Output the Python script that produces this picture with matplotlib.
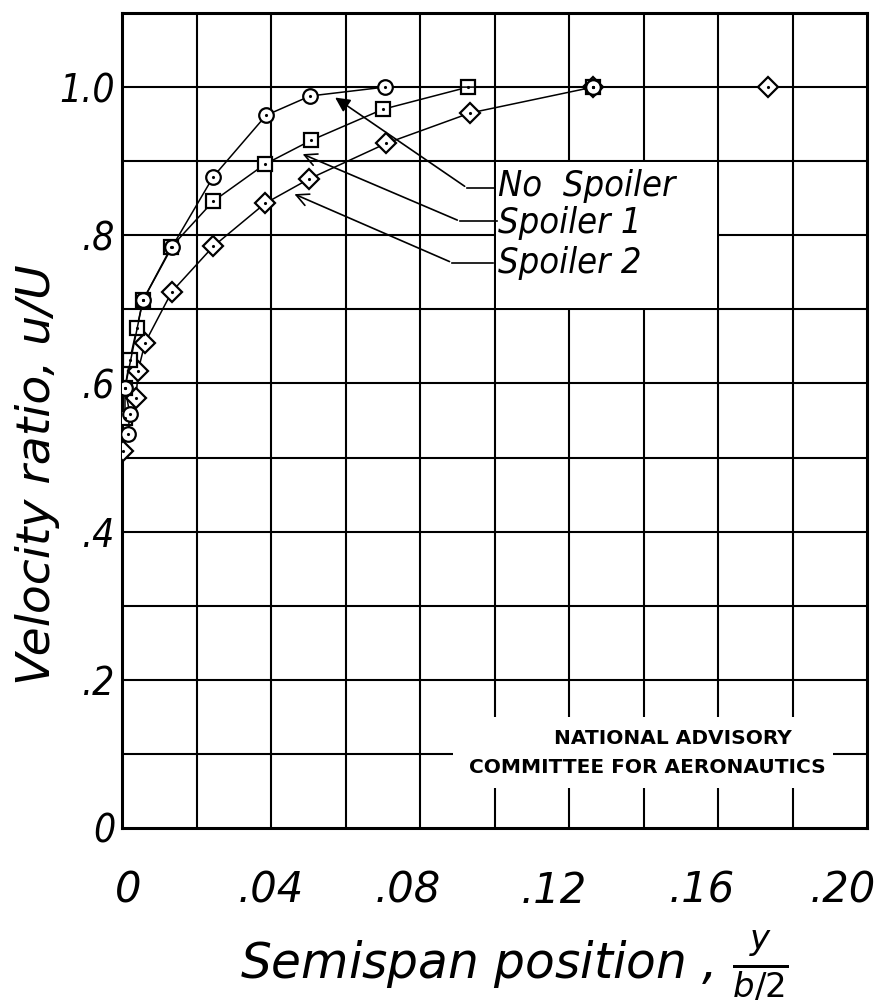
import matplotlib
matplotlib.use('Agg')
import matplotlib.pyplot as plt
from matplotlib.patches import Rectangle
from matplotlib.transforms import ScaledTranslation

# data (y/(b/2), u/U)
no_spoiler_x = [0.0016, 0.0021, 0.0008, 0.0056, 0.0134, 0.0245, 0.0387, 0.0505, 0.0706, 0.1265]
no_spoiler_y = [0.532, 0.559, 0.594, 0.712, 0.784, 0.879, 0.962, 0.988, 1.000, 1.000]

spoiler1_x = [0.0008, 0.0008, 0.0021, 0.0040, 0.0056, 0.0132, 0.0245, 0.0384, 0.0507, 0.0700, 0.0929, 0.1265]
spoiler1_y = [0.553, 0.594, 0.632, 0.675, 0.712, 0.784, 0.846, 0.896, 0.928, 0.970, 1.000, 1.000]

spoiler2_x = [0.0003, 0.0038, 0.0043, 0.0062, 0.0134, 0.0245, 0.0384, 0.0502, 0.0709, 0.0934, 0.1265, 0.1734]
spoiler2_y = [0.509, 0.581, 0.617, 0.655, 0.724, 0.785, 0.843, 0.876, 0.924, 0.965, 1.000, 1.000]

x_ticks = [0, 0.04, 0.08, 0.12, 0.16, 0.20]
x_ticklabels = ['0', '.04', '.08', '.12', '.16', '.20']
y_ticks = [0, 0.2, 0.4, 0.6, 0.8, 1.0]
y_ticklabels = ['0', '.2', '.4', '.6', '.8', '1.0']

hand = dict(fontstyle='italic', family=['DejaVu Sans'])
narrow = dict(fontstyle='italic', fontstretch='condensed', family=['DejaVu Sans'])

fig = plt.figure(figsize=(8.86, 10.08), dpi=100)
ax = fig.add_axes([0.1377, 0.1786, 0.8409, 0.8085])
ax.set_xlim(0, 0.20)
ax.set_ylim(0, 1.1)

# grid
for gx in [i * 0.02 for i in range(1, 10)]:
    ax.axvline(gx, color='black', lw=1.5, zorder=1)
for gy in [i * 0.1 for i in range(1, 11)]:
    ax.axhline(gy, color='black', lw=1.5, zorder=1)

# blank panels (legend area, NACA stamp)
ax.add_patch(Rectangle((0.1004, 0.7015), 0.0592, 0.197, facecolor='white', edgecolor='none', zorder=1.5))
ax.add_patch(Rectangle((0.0889, 0.054), 0.102, 0.096, facecolor='white', edgecolor='none', zorder=1.5))

for sp in ax.spines.values():
    sp.set_linewidth(2.2)
ax.tick_params(length=0)
ax.set_xticks(x_ticks)
ax.set_xticklabels(x_ticklabels, fontsize=30, **hand)
ax.set_yticks(y_ticks)
ax.set_yticklabels(y_ticklabels, fontsize=28, **narrow)
ax.tick_params(axis='x', pad=30)
ax.tick_params(axis='y', pad=5)

# hand lettered labels sit a bit left of their grid lines
x_shift_px = [6, 0, -12, -15, -16, -24]
for lab, dx in zip(ax.get_xticklabels(), x_shift_px):
    lab.set_transform(lab.get_transform() + ScaledTranslation(dx / 100, 0, fig.dpi_scale_trans))

# curves
ax.plot(spoiler2_x, spoiler2_y, color='black', lw=1.1, marker='D', ms=10, mfc='white', mec='black', mew=1.6, zorder=3)
ax.plot(spoiler1_x, spoiler1_y, color='black', lw=1.1, marker='s', ms=10, mfc='white', mec='black', mew=1.6, zorder=4)
ax.plot(no_spoiler_x, no_spoiler_y, color='black', lw=1.1, marker='o', ms=10.5, mfc='white', mec='black', mew=1.6, zorder=5)
for xs, ys in [(spoiler2_x, spoiler2_y), (spoiler1_x, spoiler1_y), (no_spoiler_x, no_spoiler_y)]:
    ax.plot(xs, ys, ls='none', marker='.', ms=2.5, color='black', zorder=6)

# legend leaders
ax.plot([0.0926, 0.1001], [0.864, 0.864], color='black', lw=1.2, zorder=2)
ax.annotate('', xy=(0.0566, 0.988), xytext=(0.0926, 0.864),
            arrowprops=dict(arrowstyle='-|>', color='black', lw=1.2, mutation_scale=22), zorder=2)
ax.plot([0.0907, 0.1007], [0.819, 0.819], color='black', lw=1.2, zorder=2)
ax.annotate('', xy=(0.0478, 0.911), xytext=(0.0907, 0.819),
            arrowprops=dict(arrowstyle='->', color='black', lw=1.2, mutation_scale=22), zorder=2)
ax.plot([0.0886, 0.0996], [0.763, 0.763], color='black', lw=1.2, zorder=2)
ax.annotate('', xy=(0.0456, 0.857), xytext=(0.0886, 0.763),
            arrowprops=dict(arrowstyle='->', color='black', lw=1.2, mutation_scale=22), zorder=2)

ax.text(0.1008, 0.866, 'No  Spoiler', fontsize=26, va='center', ha='left', zorder=7, **narrow)
ax.text(0.1008, 0.816, 'Spoiler 1', fontsize=26, va='center', ha='left', zorder=7, **narrow)
ax.text(0.1008, 0.762, 'Spoiler 2', fontsize=26, va='center', ha='left', zorder=7, **narrow)

ax.text(0.1478, 0.121, 'NATIONAL ADVISORY', fontsize=14.5, fontweight='bold', ha='center', va='center', zorder=7)
ax.text(0.1411, 0.081, 'COMMITTEE FOR AERONAUTICS', fontsize=14.5, fontweight='bold', ha='center', va='center', zorder=7)

ax.set_xlabel(r'Semispan position , $\frac{y}{b/2}$', fontsize=35, **hand)
ax.xaxis.set_label_coords(0.527, -0.184)
ax.xaxis.label.set_verticalalignment('baseline')
ax.set_ylabel('Velocity ratio, u/U', fontsize=34, **hand)
ax.yaxis.set_label_coords(-0.114, 0.434)
ax.yaxis.label.set_verticalalignment('center')

plt.savefig('out.png', dpi=100)
